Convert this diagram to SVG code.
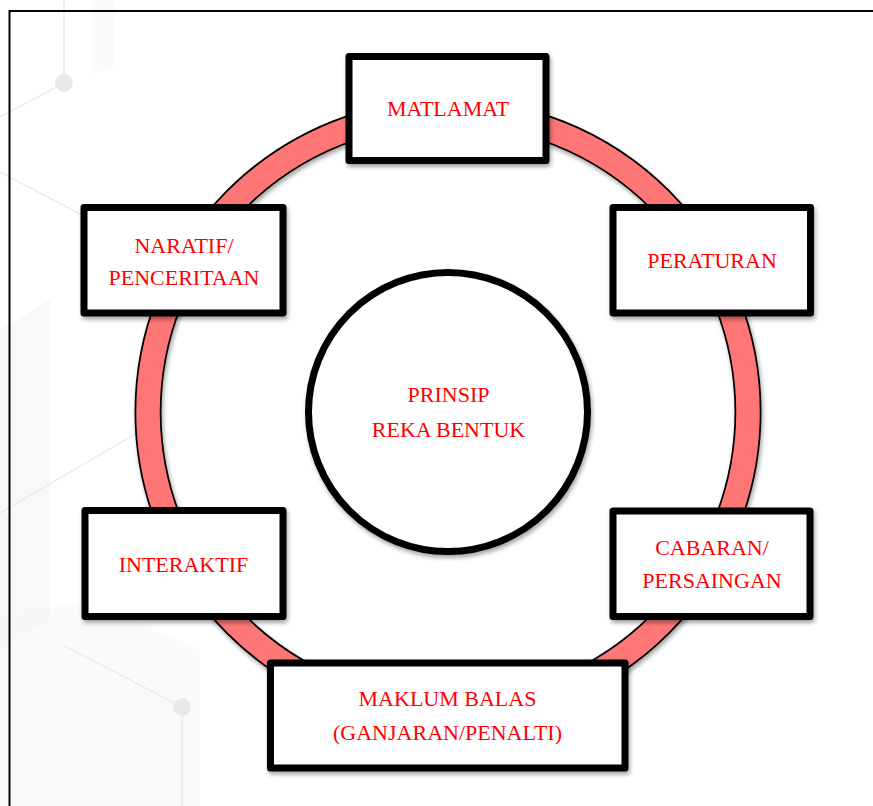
<svg xmlns="http://www.w3.org/2000/svg" width="873" height="806" viewBox="0 0 873 806">
  <defs>
    <filter id="sh" x="-10%" y="-10%" width="130%" height="130%">
      <feDropShadow dx="1.5" dy="3" stdDeviation="2" flood-color="#000" flood-opacity="0.35"/>
    </filter>
    <style>
      .box { fill: #ffffff; stroke: #000000; stroke-width: 7; stroke-linejoin: round; }
      .lbl { font-family: "Liberation Serif", "Times New Roman", serif; font-size: 22px; fill: #ff0000; text-anchor: middle; }
      .bgl { stroke: #e8e8e8; stroke-width: 1.2; fill: none; }
      .bgd { fill: #e9e9e9; }
      .bgp { fill: #f5f6f7; }
    </style>
  </defs>
  <rect width="873" height="806" fill="#ffffff"/>

  <g id="background">
    <polygon class="bgp" points="0,330 50,300 50,620 0,650" opacity="0.8"/>
    <polygon class="bgp" points="0,620 90,600 200,650 200,806 0,806" opacity="0.5"/>
    <polygon class="bgp" points="92,0 115,0 115,65 92,75" opacity="0.5"/>
    <line class="bgl" x1="64" y1="0" x2="64" y2="83"/>
    <line class="bgl" x1="64" y1="83" x2="0" y2="117"/>
    <circle class="bgd" cx="64" cy="83" r="9"/>
    <line class="bgl" x1="0" y1="172" x2="84" y2="216"/>
    <line class="bgl" x1="0" y1="513" x2="137" y2="433"/>
    <line class="bgl" x1="63" y1="645" x2="182" y2="707"/>
    <line class="bgl" x1="182" y1="707" x2="182" y2="806"/>
    <circle class="bgd" cx="182" cy="707" r="9"/>
  </g>

  <path d="M9.5,806 V11 H873" fill="none" stroke="#000" stroke-width="2"/>

  <g id="connectors">
    <g id="ring" filter="url(#sh)">
      <circle cx="448" cy="412" r="300" fill="none" stroke="#000" stroke-width="27"/>
      <circle cx="448" cy="412" r="300" fill="none" stroke="#ff7676" stroke-width="23.5"/>
    </g>
  </g>

  <g id="center">
    <circle cx="448" cy="412" r="139.5" fill="#fff" stroke="#000" stroke-width="7" filter="url(#sh)"/>
    <text class="lbl" x="448.5" y="402">PRINSIP</text>
    <text class="lbl" x="448.5" y="436.5">REKA BENTUK</text>
  </g>

  <g id="matlamat">
    <rect class="box" x="349" y="56.5" width="197" height="104" filter="url(#sh)"/>
    <text class="lbl" x="448" y="116">MATLAMAT</text>
  </g>

  <g id="naratif">
    <rect class="box" x="84" y="207.5" width="199" height="105.5" filter="url(#sh)"/>
    <text class="lbl" x="184" y="253">NARATIF/</text>
    <text class="lbl" x="184" y="285">PENCERITAAN</text>
  </g>

  <g id="peraturan">
    <rect class="box" x="613" y="207.5" width="197.5" height="105.5" filter="url(#sh)"/>
    <text class="lbl" x="712" y="267.5">PERATURAN</text>
  </g>

  <g id="interaktif">
    <rect class="box" x="85" y="510.5" width="198" height="106" filter="url(#sh)"/>
    <text class="lbl" x="183.5" y="571.5">INTERAKTIF</text>
  </g>

  <g id="cabaran">
    <rect class="box" x="613" y="511" width="197" height="105.5" filter="url(#sh)"/>
    <text class="lbl" x="712" y="555">CABARAN/</text>
    <text class="lbl" x="712" y="588">PERSAINGAN</text>
  </g>

  <g id="maklum">
    <rect class="box" x="270.5" y="663" width="354.5" height="105" filter="url(#sh)"/>
    <text class="lbl" x="447.5" y="706">MAKLUM BALAS</text>
    <text class="lbl" x="447.5" y="739.5">(GANJARAN/PENALTI)</text>
  </g>
</svg>
